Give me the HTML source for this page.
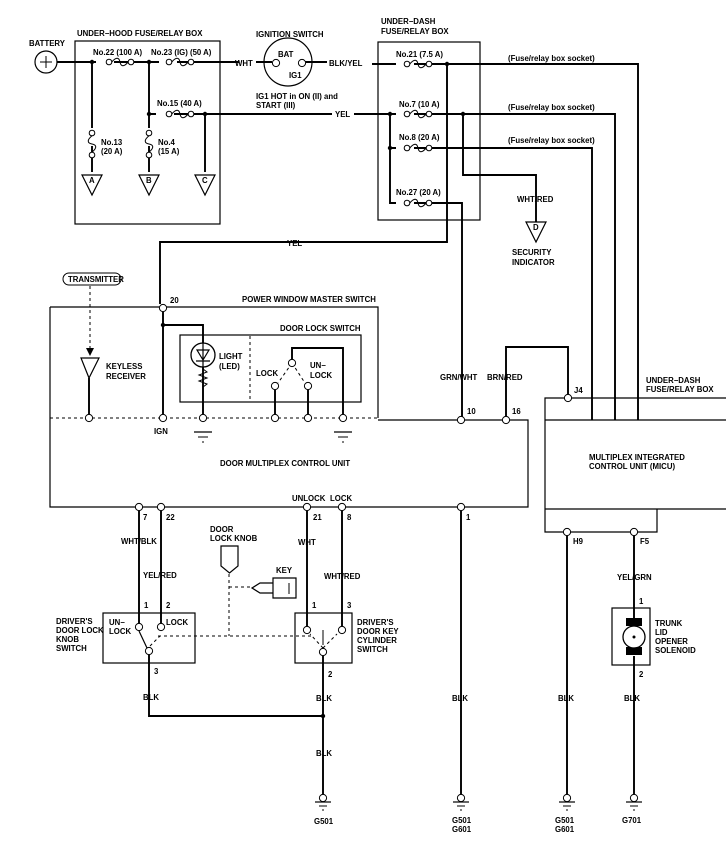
<!DOCTYPE html>
<html><head><meta charset="utf-8"><style>
html,body{margin:0;padding:0;background:#fff}
svg{display:block}
text{font-family:"Liberation Sans",sans-serif;font-weight:bold;font-size:7.8px;fill:#000}
</style></head><body>
<svg width="726" height="855" viewBox="0 0 726 855" xmlns="http://www.w3.org/2000/svg">
<defs>
<g id="fh"><circle cx="-11" cy="0" r="2.8" fill="#fff" stroke="#000" stroke-width="1"/><circle cx="11" cy="0" r="2.8" fill="#fff" stroke="#000" stroke-width="1"/><path d="M-8.2 0 C-4 -5 -1 -5 0 0 C1 5 4 5 8.2 0" fill="none" stroke="#000" stroke-width="1"/></g>
<g id="fv"><circle cx="0" cy="-11" r="2.8" fill="#fff" stroke="#000" stroke-width="1"/><circle cx="0" cy="11" r="2.8" fill="#fff" stroke="#000" stroke-width="1"/><path d="M0 -8.2 C-5 -4 -5 -1 0 0 C5 1 5 4 0 8.2" fill="none" stroke="#000" stroke-width="1"/></g>
<g id="pin"><circle cx="0" cy="0" r="3.6" fill="#fff" stroke="#000" stroke-width="1"/></g>
<g id="gnd"><circle cx="0" cy="-3" r="3.6" fill="#fff" stroke="#000" stroke-width="1"/><line x1="-8" y1="1" x2="8" y2="1" stroke="#000" stroke-width="1.2"/><line x1="-4" y1="5" x2="4" y2="5" stroke="#000" stroke-width="1"/><line x1="-1" y1="9" x2="1" y2="9" stroke="#000" stroke-width="1"/></g>
<g id="gb"><line x1="-9" y1="0" x2="9" y2="0" stroke="#000" stroke-width="1.2"/><line x1="-5" y1="5" x2="5" y2="5" stroke="#000" stroke-width="1"/><line x1="-1" y1="10" x2="1" y2="10" stroke="#000" stroke-width="1"/></g>
</defs>
<g fill="none" stroke="#000" stroke-width="1.9">
<!-- battery -->
<circle cx="46" cy="62" r="11" stroke-width="1.2"/>
<path d="M40 62h12M46 56v12" stroke-width="1"/>
<path d="M57 62H96M114 62H159M177 62H239M256 62H272"/>
<rect x="75" y="41" width="145" height="183" stroke-width="1.2"/>
<path d="M92 62V128M92 146V172M149 62V128M149 146V172M149 114H156M174 114H332M354 114H396M205 114V172"/>
<circle cx="288" cy="62" r="24" stroke-width="1.2"/>
<path d="M303 62H327M372 64H396"/>
<rect x="378" y="42" width="102" height="178" stroke-width="1.2"/>
<path d="M414 64H638V420M447 64V242H160V304"/>
<path d="M414 114H615V420M390 114V203H396M390 148H396M414 148H592V420M463 114V175H536V222M414 203H462V420"/>
<path d="M82 175H102L92 195Z M139 175H159L149 195Z M195 175H215L205 195Z M526 222H546L536 242Z" stroke-width="1.2"/>
<path d="M50 307H378V418" stroke-width="1.2"/>
<path d="M50 307V507H528V420H378" stroke-width="1.2"/>
<path d="M163 312V414M163 325H203V343M203 367V414M275 390V414M308 390V414M292 360V348H343V414M89 378V414"/>
<rect x="180" y="335" width="181" height="67" stroke-width="1.2"/>
<path d="M81 358H99L89 378Z" stroke-width="1.2"/>
<path d="M461 420V416M506 416V347H568V394"/>
<path d="M726 398H545V532H657V509M545 420H726M545 509H726" stroke-width="1.2"/>
<path d="M139 511V623M161 511V623M307 511V626M342 511V626M149 655V716H323M323 656V795M461 511V795M567 536V795M634 536V620M634 656V795"/>
<rect x="103" y="613" width="92" height="50" stroke-width="1.2"/>
<rect x="295" y="613" width="57" height="50" stroke-width="1.2"/>
<rect x="612" y="608" width="38" height="57" stroke-width="1.2"/>
<path d="M139 631L147 648" stroke-width="1.2"/>
<path d="M323 630V645" stroke-width="1"/>
<path d="M221 546H238V566L229.5 573L221 566Z" stroke-width="1.2"/>
<path d="M273 578H296V598H273ZM273 583H260L252 588L260 593H273" stroke-width="1.2"/>
<path d="M289 583V594" stroke-width="1"/>
</g>
<g fill="none" stroke="#000" stroke-width="1" stroke-dasharray="3,3">
<path d="M50 418H378M250 336V402M292 363L278 383M292 363L305 383M90 286V350"/>
<path d="M229 574V636M229 587H252M158 636H313M150 646L160 636M323 648L310 634M323 648L337 634"/>
</g>
<path d="M86 348H94L90 356Z" fill="#000"/>
<rect x="63" y="273" width="58" height="12" rx="6" fill="#fff" stroke="#000" stroke-width="1"/>
<circle cx="203" cy="355" r="12" fill="#fff" stroke="#000" stroke-width="1.3"/>
<path d="M197 350H209L203 360ZM196 361H210M203 343V368" fill="none" stroke="#000" stroke-width="1.2"/>
<path d="M203 369l4 3l-8 3l8 3l-8 3l8 3l-4 3" fill="none" stroke="#000" stroke-width="1"/>
<rect x="626" y="618" width="16" height="8" fill="#000"/><rect x="626" y="647" width="16" height="8" fill="#000"/>
<circle cx="634" cy="637" r="11" fill="#fff" stroke="#000" stroke-width="1.3"/><circle cx="634" cy="637" r="1.5" fill="#000"/>
<use href="#fh" x="120" y="62"/><use href="#fh" x="180" y="62"/><use href="#fh" x="180" y="114"/>
<use href="#fv" x="92" y="144"/><use href="#fv" x="149" y="144"/>
<use href="#fh" x="418" y="64"/><use href="#fh" x="418" y="114"/><use href="#fh" x="418" y="148"/><use href="#fh" x="418" y="203"/>
<g fill="#000"><circle cx="92" cy="62" r="2.2"/><circle cx="149" cy="62" r="2.2"/><circle cx="149" cy="114" r="2.2"/><circle cx="205" cy="114" r="2.2"/><circle cx="447" cy="64" r="2.2"/><circle cx="390" cy="114" r="2.2"/><circle cx="463" cy="114" r="2.2"/><circle cx="390" cy="148" r="2.2"/><circle cx="163" cy="325" r="2.2"/><circle cx="323" cy="716" r="2.2"/></g>
<use href="#pin" x="276" y="63"/><use href="#pin" x="302" y="63"/>
<use href="#pin" x="163" y="308"/><use href="#pin" x="89" y="418"/><use href="#pin" x="163" y="418"/><use href="#pin" x="203" y="418"/><use href="#pin" x="275" y="418"/><use href="#pin" x="308" y="418"/><use href="#pin" x="343" y="418"/>
<use href="#pin" x="275" y="386"/><use href="#pin" x="308" y="386"/><use href="#pin" x="292" y="363"/>
<use href="#pin" x="461" y="420"/><use href="#pin" x="506" y="420"/><use href="#pin" x="568" y="398"/>
<use href="#pin" x="139" y="507"/><use href="#pin" x="161" y="507"/><use href="#pin" x="307" y="507"/><use href="#pin" x="342" y="507"/><use href="#pin" x="461" y="507"/>
<use href="#pin" x="567" y="532"/><use href="#pin" x="634" y="532"/>
<use href="#pin" x="139" y="627"/><use href="#pin" x="161" y="627"/><use href="#pin" x="149" y="651"/>
<use href="#pin" x="307" y="630"/><use href="#pin" x="342" y="630"/><use href="#pin" x="323" y="652"/>
<use href="#gb" x="203" y="432"/><use href="#gb" x="343" y="432"/>
<use href="#gnd" x="323" y="801"/><use href="#gnd" x="461" y="801"/><use href="#gnd" x="567" y="801"/><use href="#gnd" x="634" y="801"/>
<text x="29" y="46">BATTERY</text>
<text x="77" y="36">UNDER−HOOD FUSE/RELAY BOX</text>
<text x="93" y="55">No.22 (100 A)</text>
<text x="151" y="55">No.23 (IG) (50 A)</text>
<text x="157" y="106">No.15 (40 A)</text>
<text x="101" y="145">No.13</text><text x="101" y="154">(20 A)</text>
<text x="158" y="145">No.4</text><text x="158" y="154">(15 A)</text>
<text x="89" y="183" font-size="6">A</text><text x="146" y="183" font-size="6">B</text><text x="202" y="183" font-size="6">C</text><text x="533" y="230" font-size="6">D</text>
<text x="235" y="66">WHT</text>
<text x="256" y="37">IGNITION SWITCH</text>
<text x="278" y="57">BAT</text><text x="289" y="78">IG1</text>
<text x="329" y="66">BLK/YEL</text>
<text x="256" y="99">IG1 HOT in ON (II) and</text><text x="256" y="108">START (III)</text>
<text x="335" y="117">YEL</text>
<text x="381" y="24">UNDER−DASH</text><text x="381" y="34">FUSE/RELAY BOX</text>
<text x="396" y="57">No.21 (7.5 A)</text>
<text x="399" y="107">No.7 (10 A)</text>
<text x="399" y="140">No.8 (20 A)</text>
<text x="396" y="195">No.27 (20 A)</text>
<text x="508" y="61" font-size="6.8">(Fuse/relay box socket)</text>
<text x="508" y="110" font-size="6.8">(Fuse/relay box socket)</text>
<text x="508" y="143" font-size="6.8">(Fuse/relay box socket)</text>
<text x="517" y="202">WHT/RED</text>
<text x="512" y="255">SECURITY</text><text x="512" y="265">INDICATOR</text>
<text x="287" y="246">YEL</text>
<text x="68" y="282" font-size="6">TRANSMITTER</text>
<text x="170" y="303">20</text>
<text x="242" y="302">POWER WINDOW MASTER SWITCH</text>
<text x="280" y="331">DOOR LOCK SWITCH</text>
<text x="219" y="359">LIGHT</text><text x="219" y="369">(LED)</text>
<text x="256" y="376">LOCK</text>
<text x="310" y="368">UN−</text><text x="310" y="378">LOCK</text>
<text x="106" y="369">KEYLESS</text><text x="106" y="379">RECEIVER</text>
<text x="154" y="434">IGN</text>
<text x="440" y="380">GRN/WHT</text><text x="487" y="380">BRN/RED</text>
<text x="467" y="414">10</text><text x="512" y="414">16</text>
<text x="574" y="393">J4</text>
<text x="646" y="383">UNDER−DASH</text><text x="646" y="392">FUSE/RELAY BOX</text>
<text x="220" y="466">DOOR MULTIPLEX CONTROL UNIT</text>
<text x="589" y="460">MULTIPLEX INTEGRATED</text><text x="589" y="469">CONTROL UNIT (MICU)</text>
<text x="292" y="501">UNLOCK</text><text x="330" y="501">LOCK</text>
<text x="143" y="520">7</text><text x="166" y="520">22</text><text x="313" y="520">21</text><text x="347" y="520">8</text><text x="466" y="520">1</text>
<text x="573" y="544">H9</text><text x="640" y="544">F5</text>
<text x="121" y="544">WHT/BLK</text><text x="143" y="578">YEL/RED</text>
<text x="298" y="545">WHT</text><text x="324" y="579">WHT/RED</text>
<text x="210" y="532">DOOR</text><text x="210" y="541">LOCK KNOB</text>
<text x="276" y="573">KEY</text>
<text x="144" y="608">1</text><text x="166" y="608">2</text>
<text x="312" y="608">1</text><text x="347" y="608">3</text>
<text x="109" y="625">UN−</text><text x="109" y="634">LOCK</text><text x="166" y="625">LOCK</text>
<text x="56" y="624">DRIVER'S</text><text x="56" y="633">DOOR LOCK</text><text x="56" y="642">KNOB</text><text x="56" y="651">SWITCH</text>
<text x="357" y="625">DRIVER'S</text><text x="357" y="634">DOOR KEY</text><text x="357" y="643">CYLINDER</text><text x="357" y="652">SWITCH</text>
<text x="154" y="674">3</text><text x="328" y="677">2</text>
<text x="143" y="700">BLK</text><text x="316" y="701">BLK</text><text x="316" y="756">BLK</text>
<text x="452" y="701">BLK</text><text x="558" y="701">BLK</text><text x="624" y="701">BLK</text>
<text x="617" y="580">YEL/GRN</text>
<text x="639" y="604">1</text><text x="639" y="677">2</text>
<text x="655" y="626">TRUNK</text><text x="655" y="635">LID</text><text x="655" y="644">OPENER</text><text x="655" y="653">SOLENOID</text>
<text x="314" y="824">G501</text>
<text x="452" y="823">G501</text><text x="452" y="832">G601</text>
<text x="555" y="823">G501</text><text x="555" y="832">G601</text>
<text x="622" y="823">G701</text>
</svg>
</body></html>
